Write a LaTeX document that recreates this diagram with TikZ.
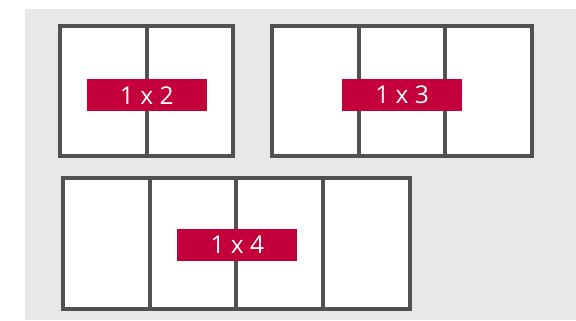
\documentclass[tikz,border=0pt]{standalone}
\usepackage{fontspec}
\setmainfont{Open Sans}
\usetikzlibrary{positioning}
\definecolor{panelgray}{HTML}{E8E8E8}
\definecolor{framegray}{HTML}{515151}
\definecolor{tagred}{HTML}{C4003C}

\begin{document}
\begin{tikzpicture}[
  x=1pt, y=1pt,
  node distance=0pt,
  cell/.style={draw=framegray, line width=4pt, fill=white, outer sep=0pt,
               minimum width=86.7pt, minimum height=130.5pt, inner sep=0pt},
  tag/.style={fill=tagred, text=white, minimum width=120pt, minimum height=32pt,
              inner sep=0pt, font=\fontsize{24.5}{29}\selectfont}
]
\useasboundingbox (0,0) rectangle (576,321);
\fill[panelgray] (25,1) rectangle (576,312);

% 1 x 2
\node[cell] (a1) at (103.4,229.75) {};
\node[cell, right=of a1] (a2) {};
% 1 x 3
\node[cell] (b1) at (315.35,229.75) {};
\node[cell, right=of b1] (b2) {};
\node[cell, right=of b2] (b3) {};
% 1 x 4
\node[cell] (c1) at (106.35,77.5) {};
\node[cell, right=of c1] (c2) {};
\node[cell, right=of c2] (c3) {};
\node[cell, right=of c3] (c4) {};

\node[tag, yshift=-4pt] (t2) at (a1.east) {1 x 2};
\node[tag, yshift=-4pt] (t3) at (b2.center) {1 x 3};
\node[tag, yshift=-1.5pt, xshift=1pt] (t4) at (c2.east) {1 x 4};
\end{tikzpicture}
\end{document}
